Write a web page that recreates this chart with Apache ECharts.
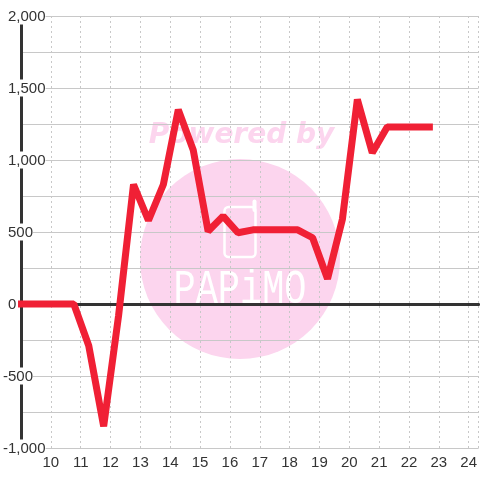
<!DOCTYPE html>
<html>
<head>
<meta charset="utf-8">
<style>
  html, body { margin: 0; padding: 0; background: #fff; }
  #chart { width: 480px; height: 480px; }
</style>
<script src="https://cdn.jsdelivr.net/npm/echarts@6/dist/echarts.min.js"></script>
</head>
<body>
<div id="chart"></div>
<script>
// hours on the x axis, balance on the y axis
var hours = [8.9, 10.77, 11.27, 11.77, 12.27, 12.77, 13.27, 13.77, 14.27, 14.77, 15.27, 15.77, 16.27, 16.77, 17.27, 17.77, 18.27, 18.77, 19.27, 19.77, 20.27, 20.77, 21.27, 21.77, 22.27, 22.8];
var balance = [0, 0, -290, -850, -80, 830, 580, 830, 1350, 1070, 505, 610, 495, 515, 515, 515, 515, 460, 175, 590, 1420, 1050, 1230, 1230, 1230, 1230];
var yTicks = [2000, 1500, 1000, 500, 0, -500, -1000];

var points = hours.map(function (h, i) { return [h, balance[i]]; });

var myChart = echarts.init(document.getElementById('chart'), null, { renderer: 'canvas' });
var option = {
  animation: false,
  backgroundColor: '#fff',
  textStyle: { fontFamily: 'Liberation Sans' },
  grid: { left: 20, right: 0, top: 16, bottom: 32 },
  // watermark
  graphic: [
    { type: 'circle', z: -10, shape: { cx: 240, cy: 259, r: 100 }, style: { fill: '#fcd5ee' } },
    { type: 'text', z: -10, x: 241.5, y: 136, style: { text: 'Powered by', fill: '#fcd5ee', font: 'italic bold 28px "DejaVu Sans"', align: 'center', verticalAlign: 'middle' } },
    { type: 'rect', z: -9, shape: { x: 224.5, y: 207, width: 31, height: 50, r: 4 }, style: { fill: 'none', stroke: '#fff', lineWidth: 2.5 } },
    { type: 'line', z: -9, shape: { x1: 254.5, y1: 201.5, x2: 254.5, y2: 210 }, style: { stroke: '#fff', lineWidth: 4, lineCap: 'round' } },
    { type: 'text', z: -9, x: 240, y: 290, scaleX: 0.77, style: { text: 'PAPiMO', fill: '#fff', font: '48px "Liberation Mono"', align: 'center', verticalAlign: 'middle' } }
  ],
  xAxis: {
    type: 'value',
    min: 9,
    max: 24.333,
    interval: 1,
    axisLine: { onZero: true, lineStyle: { color: '#333', width: 3 } },
    axisTick: { show: false },
    axisLabel: {
      color: '#333',
      fontSize: 15,
      margin: 7,
      showMinLabel: false,
      showMaxLabel: false,
      formatter: function (v) { return v; }
    },
    splitLine: { show: true, lineStyle: { color: '#c8c8c8', width: 1, type: [2, 3] } }
  },
  yAxis: {
    type: 'value',
    min: -1000,
    max: 2000,
    interval: 250,
    axisLine: { show: true, onZero: false, lineStyle: { color: '#333', width: 3 } },
    axisTick: { show: false },
    axisLabel: {
      color: '#333',
      fontSize: 15,
      align: 'left',
      margin: 18,
      backgroundColor: '#fff',
      padding: [2, 0, 0, 0],
      rich: {
        neg: { fontSize: 15, color: '#333' },
        pos: { fontSize: 15, color: '#333', padding: [0, 0, 0, 5] }
      },
      formatter: function (v) {
        if (yTicks.indexOf(v) < 0) return '';
        return (v < 0 ? '{neg|' : '{pos|') + v.toLocaleString('en-US') + '}';
      }
    },
    splitLine: { show: true, lineStyle: { color: '#c8c8c8', width: 1 } }
  },
  series: [{
    type: 'line',
    data: points,
    symbol: 'none',
    clip: false,
    lineStyle: { color: '#f02035', width: 7, join: 'bevel', cap: 'butt' }
  }]
};
myChart.setOption(option);
</script>
</body>
</html>
